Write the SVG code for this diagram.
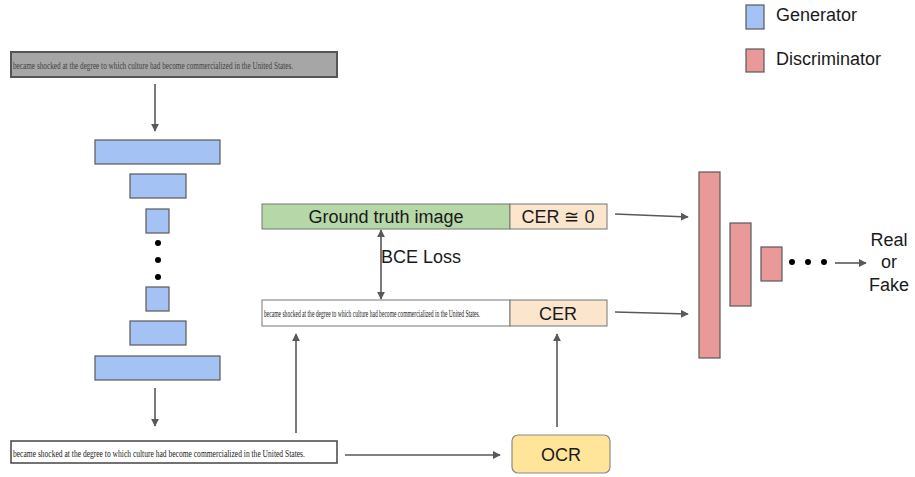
<svg xmlns="http://www.w3.org/2000/svg" width="915" height="477" viewBox="0 0 915 477">
<style>
.gen{fill:#a4c2f4;stroke:#595959;stroke-width:1.2}
.dis{fill:#ea9999;stroke:#595959;stroke-width:1.2}
.lbl{font-family:"Liberation Sans",Arial,sans-serif;font-size:18px;fill:#1a1a1a}
.ser{font-family:"Liberation Serif","Times New Roman",serif;font-size:11px;fill:#222}
.con{stroke:#595959;stroke-width:1.6;fill:none}
.dot{fill:#000}
</style>
<defs>
<marker id="ah" viewBox="0 0 10 10" refX="9" refY="5" markerWidth="8" markerHeight="8" markerUnits="userSpaceOnUse" orient="auto-start-reverse">
<path d="M0,0 L10,5 L0,10 z" fill="#595959"/>
</marker>
</defs>
<rect width="915" height="477" fill="#fff"/>

<g id="legend">
<rect class="gen" x="746" y="5" width="18" height="24"/>
<text class="lbl" x="776" y="21" font-size="17.5">Generator</text>
<rect class="dis" x="746" y="49" width="18" height="23"/>
<text class="lbl" x="776" y="65" font-size="17.5">Discriminator</text>
</g>

<g id="input-image">
<rect x="11" y="52" width="326" height="25" fill="#a6a6a6" stroke="#555" stroke-width="2"/>
<text class="ser" transform="translate(13,69) scale(0.67,1)" textLength="418" lengthAdjust="spacingAndGlyphs" fill="#444" opacity="0.75">became shocked at the degree to which culture had become commercialized in the United States.</text>
</g>

<g id="generator">
<rect class="gen" x="95" y="140" width="125" height="24"/>
<rect class="gen" x="130" y="174" width="56" height="24"/>
<rect class="gen" x="146" y="209" width="23" height="24"/>
<circle class="dot" cx="158" cy="243" r="3"/>
<circle class="dot" cx="158" cy="260" r="3"/>
<circle class="dot" cx="158" cy="277" r="3"/>
<rect class="gen" x="146" y="287" width="23" height="24"/>
<rect class="gen" x="130" y="321" width="56" height="24"/>
<rect class="gen" x="95" y="356" width="125" height="24"/>
</g>

<g id="output-image">
<rect x="11" y="441" width="326" height="22" fill="#fff" stroke="#444" stroke-width="1.5"/>
<text class="ser" transform="translate(13,457) scale(0.7,1)" textLength="417" lengthAdjust="spacingAndGlyphs">became shocked at the degree to which culture had become commercialized in the United States.</text>
</g>

<g id="ocr">
<rect x="512" y="435" width="98" height="38" rx="6" fill="#ffe599" stroke="#8a8a8a" stroke-width="1.2"/>
<text class="lbl" x="561" y="461" text-anchor="middle" font-size="20">OCR</text>
</g>

<g id="ground-truth">
<rect x="262" y="204" width="248" height="25" fill="#b6d7a8" stroke="#777" stroke-width="1"/>
<text class="lbl" x="386" y="223" text-anchor="middle">Ground truth image</text>
<rect x="510" y="204" width="97" height="25" fill="#fce5cd" stroke="#777" stroke-width="1"/>
<text class="lbl" x="558" y="223" text-anchor="middle" font-size="17">CER ≅ 0</text>
</g>

<g id="generated">
<rect x="262" y="300" width="248" height="26" fill="#fff" stroke="#777" stroke-width="1"/>
<text class="ser" transform="translate(264,317) scale(0.55,1)" textLength="393" lengthAdjust="spacingAndGlyphs">became shocked at the degree to which culture had become commercialized in the United States.</text>
<rect x="510" y="300" width="97" height="26" fill="#fce5cd" stroke="#777" stroke-width="1"/>
<text class="lbl" x="558" y="320" text-anchor="middle">CER</text>
</g>

<g id="bce-label">
<text class="lbl" x="381" y="263">BCE Loss</text>
</g>

<g id="discriminator">
<rect class="dis" x="699" y="172" width="21" height="186"/>
<rect class="dis" x="730" y="223" width="21" height="83"/>
<rect class="dis" x="761" y="247" width="21" height="34"/>
<circle class="dot" cx="792" cy="262" r="3"/>
<circle class="dot" cx="808" cy="262" r="3"/>
<circle class="dot" cx="824" cy="262" r="3"/>
</g>

<g id="result">
<text class="lbl" x="889" y="246" text-anchor="middle" font-size="18.5">Real</text>
<text class="lbl" x="889" y="268" text-anchor="middle" font-size="18.5">or</text>
<text class="lbl" x="889" y="291" text-anchor="middle" font-size="18.5">Fake</text>
</g>

<g id="connectors">
<line class="con" x1="155" y1="84" x2="155" y2="131" marker-end="url(#ah)"/>
<line class="con" x1="155" y1="388" x2="155" y2="426" marker-end="url(#ah)"/>
<line class="con" x1="345" y1="455" x2="500" y2="455" marker-end="url(#ah)"/>
<line class="con" x1="296" y1="433" x2="296" y2="334" marker-end="url(#ah)"/>
<line class="con" x1="557" y1="427" x2="557" y2="334" marker-end="url(#ah)"/>
<line class="con" x1="381" y1="230" x2="381" y2="299" stroke-width="1" marker-start="url(#ah)" marker-end="url(#ah)"/>
<line class="con" x1="615" y1="214" x2="688" y2="217" marker-end="url(#ah)"/>
<line class="con" x1="615" y1="312" x2="688" y2="314" marker-end="url(#ah)"/>
<line class="con" x1="835" y1="263" x2="866" y2="263" marker-end="url(#ah)"/>
</g>
</svg>
